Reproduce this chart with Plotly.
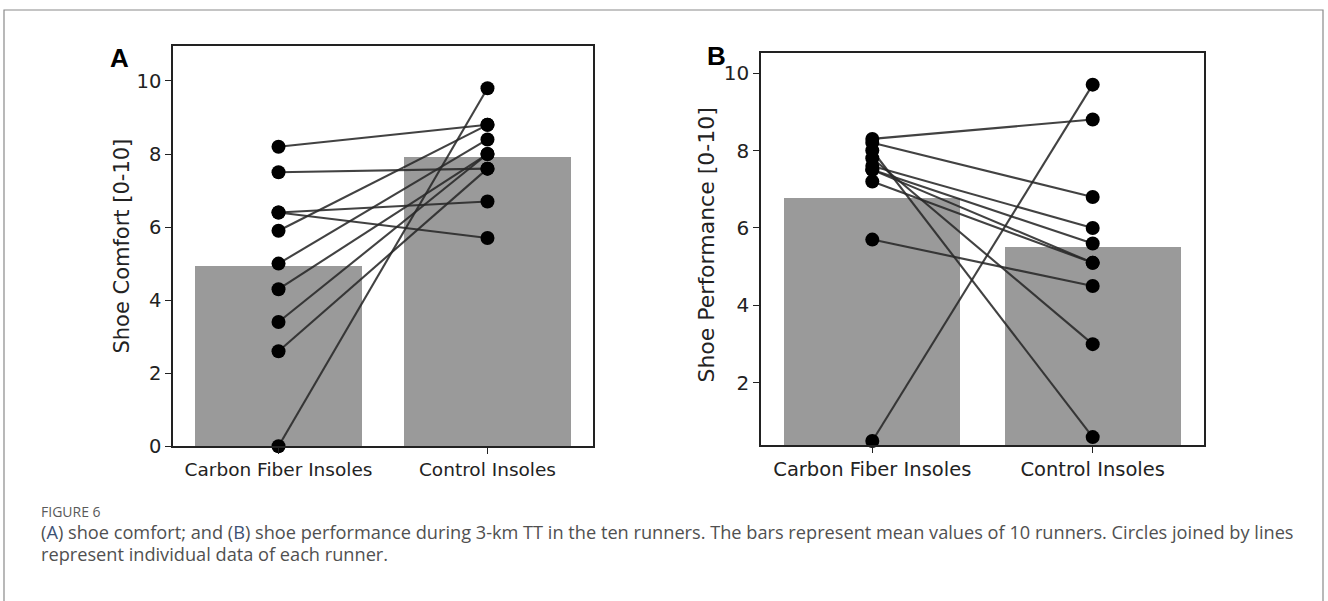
import plotly.graph_objects as go

W, H = 1328, 601
H_EFF = 590  # effective rendered paper height observed in the viewer

categories = ["Carbon Fiber Insoles", "Control Insoles"]

# Panel A: shoe comfort (each runner: carbon value, control value)
comfort_carbon = [8.2, 7.5, 6.4, 6.4, 5.9, 5.0, 4.3, 3.4, 2.6, 0.0]
comfort_control = [8.8, 7.6, 6.7, 5.7, 8.8, 8.4, 8.0, 8.0, 7.6, 9.8]
comfort_means = [4.95, 7.92]

# Panel B: shoe performance
perf_carbon = [0.5, 5.7, 8.3, 8.2, 8.0, 7.8, 7.6, 7.5, 7.5, 7.2]
perf_control = [9.7, 4.5, 8.8, 6.8, 0.6, 3.0, 6.0, 5.6, 5.1, 5.1]
perf_means = [6.78, 5.52]

comfort_ticks = [0, 2, 4, 6, 8, 10]
perf_ticks = [2, 4, 6, 8, 10]

BAR = "#9a9a9a"
LINE = "rgba(40,40,40,0.88)"
AX = "#222222"
FONT = "DejaVu Sans"

def px_x(p):
    return p / W

def px_y(p):
    return 1 - p / H_EFF

fig = go.Figure()

def add_panel(xa, ya, carbon, control, means):
    fig.add_trace(go.Bar(x=categories, y=means, width=0.8, marker=dict(color=BAR, line=dict(width=0)),
                         xaxis=xa, yaxis=ya, showlegend=False, hoverinfo="skip"))
    for c, k in zip(carbon, control):
        fig.add_trace(go.Scatter(x=categories, y=[c, k], mode="lines",
                                 line=dict(color=LINE, width=2.1), xaxis=xa, yaxis=ya,
                                 showlegend=False, hoverinfo="skip"))
    xs = [categories[0]] * len(carbon) + [categories[1]] * len(control)
    ys = list(carbon) + list(control)
    fig.add_trace(go.Scatter(x=xs, y=ys, mode="markers",
                             marker=dict(color="black", size=14, line=dict(width=0)),
                             xaxis=xa, yaxis=ya, showlegend=False, cliponaxis=False))

add_panel("x", "y", comfort_carbon, comfort_control, comfort_means)
add_panel("x2", "y2", perf_carbon, perf_control, perf_means)

def xaxis_cfg(domain, size):
    return dict(domain=domain, type="category", categoryorder="array", categoryarray=categories,
                range=[-0.505, 1.505], showline=True, mirror=True, linecolor=AX, linewidth=1.6,
                ticks="outside", ticklen=6, tickwidth=1.4, tickcolor=AX, showgrid=False,
                zeroline=False, tickfont=dict(family=FONT, size=size, color="#222"), fixedrange=True)

def yaxis_cfg(domain, rng, tickvals, size, anchor):
    return dict(domain=domain, range=rng, tickvals=tickvals, ticktext=[str(t) for t in tickvals],
                showline=True, mirror=True, linecolor=AX, linewidth=1.6, ticks="outside", ticklen=6,
                tickwidth=1.4, tickcolor=AX, showgrid=False, zeroline=False, anchor=anchor,
                tickfont=dict(family=FONT, size=size, color="#222"), fixedrange=True)

fig.update_layout(
    width=W, height=H, margin=dict(l=0, r=0, t=0, b=0),
    paper_bgcolor="white", plot_bgcolor="white", bargap=0,
    xaxis=xaxis_cfg([px_x(173), px_x(593)], 18.5) | dict(anchor="y"),
    yaxis=yaxis_cfg([px_y(447), px_y(46)], [0, 10.96], comfort_ticks, 19.5, "x"),
    xaxis2=xaxis_cfg([px_x(761), px_x(1204)], 19.5) | dict(anchor="y2"),
    yaxis2=yaxis_cfg([px_y(446), px_y(53)], [0.39, 10.52], perf_ticks, 20, "x2"),
)

# outer frame
fig.add_shape(type="rect", xref="paper", yref="paper", x0=px_x(4), x1=px_x(1323),
              y0=-0.05, y1=px_y(10), line=dict(color="#8a8a8a", width=1.2), fillcolor="rgba(0,0,0,0)",
              layer="below")

ann = []
# panel letters
ann.append(dict(text="<b>A</b>", x=px_x(108), y=px_y(58), xanchor="left", yanchor="middle",
                font=dict(family="Liberation Sans", size=26, color="black")))
ann.append(dict(text="<b>B</b>", x=px_x(705), y=px_y(56), xanchor="left", yanchor="middle",
                font=dict(family="Liberation Sans", size=26, color="black")))
# y-axis titles
ann.append(dict(text="Shoe Comfort [0-10]", x=px_x(122), y=px_y(247), textangle=-90,
                xanchor="center", yanchor="middle", font=dict(family=FONT, size=21, color="#222")))
ann.append(dict(text="Shoe Performance [0-10]", x=px_x(707), y=px_y(246), textangle=-90,
                xanchor="center", yanchor="middle", font=dict(family=FONT, size=22, color="#222")))
# caption
ann.append(dict(text="FIGURE 6", x=px_x(39), y=px_y(512), xanchor="left", yanchor="middle",
                font=dict(family="Open Sans", size=14, color="#5a5a5a")))
ann.append(dict(text="(<span style='color:#3b5277'>A</span>) shoe comfort; and (<span style='color:#3b5277'>B</span>) shoe performance during 3-km TT in the ten runners. The bars represent mean values of 10 runners. Circles joined by lines",
                x=px_x(39), y=px_y(533), xanchor="left", yanchor="middle",
                font=dict(family="Open Sans", size=18.2, color="#505050")))
ann.append(dict(text="represent individual data of each runner.", x=px_x(39), y=px_y(555),
                xanchor="left", yanchor="middle", font=dict(family="Open Sans", size=18.2, color="#505050")))
for a in ann:
    a.update(xref="paper", yref="paper", showarrow=False)
fig.update_layout(annotations=ann)

fig.write_html("out.html")
